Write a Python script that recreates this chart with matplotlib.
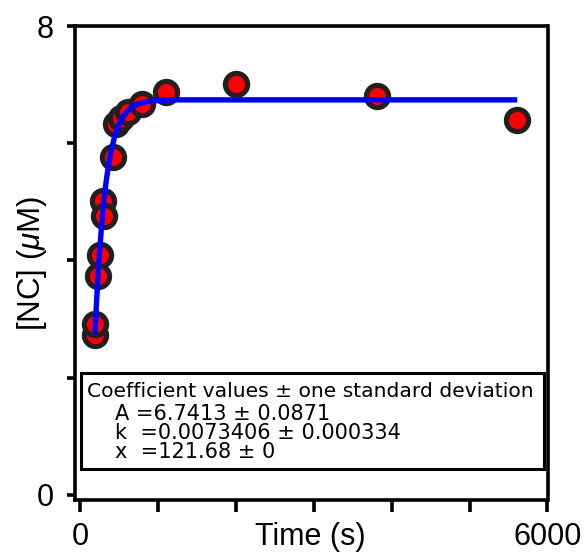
import matplotlib
matplotlib.use("Agg")
import matplotlib.pyplot as plt
from matplotlib.patches import Rectangle

# ---- data ----
time_s = [190, 195, 235, 257, 291, 312, 427, 462, 526, 616, 796, 1104, 2002, 3808, 5612]
nc_uM = [2.73, 2.91, 3.73, 4.10, 5.02, 4.76, 5.76, 6.33, 6.43, 6.53, 6.67, 6.87, 7.01, 6.80, 6.40]

fit_time = [192, 210, 230, 250, 275, 300, 330, 360, 400, 450, 500, 560, 640, 740, 860,
            1000, 1200, 1500, 2000, 3000, 5612]
fit_nc = [2.75, 3.22, 3.70, 4.11, 4.55, 4.92, 5.28, 5.57, 5.87, 6.14, 6.32, 6.47, 6.59,
          6.67, 6.71, 6.73, 6.74, 6.74, 6.74, 6.74, 6.74]

x_ticks = [0, 1000, 2000, 3000, 4000, 5000, 6000]
x_ticklabels = ["0", "", "", "", "", "", "6000"]
y_ticks = [0, 2, 4, 6, 8]
y_ticklabels = ["0", "", "", "", "8"]

coef_lines = ["A =6.7413 \u00b1 0.0871",
              "k  =0.0073406 \u00b1 0.000334",
              "x  =121.68 \u00b1 0"]
coef_title = "Coefficient values \u00b1 one standard deviation"

# ---- style ----
plt.rcParams['font.family'] = ['Liberation Sans', 'DejaVu Sans']
plt.rcParams['mathtext.fontset'] = 'custom'
plt.rcParams['mathtext.rm'] = 'Liberation Sans'
plt.rcParams['mathtext.it'] = 'Liberation Sans:italic'

W, H = 586, 553
fig = plt.figure(figsize=(W / 100, H / 100), dpi=100)
left, right, top, bottom = 74.5, 547.5, 26, 499.5
ax = fig.add_axes([left / W, 1 - bottom / H, (right - left) / W, (bottom - top) / H])

ax.plot(time_s, nc_uM, linestyle='none', marker='o', markersize=16,
        markerfacecolor='#ff0000', markeredgecolor='#231f20', markeredgewidth=3.7, zorder=3)
ax.plot(fit_time, fit_nc, color='#0000ff', linewidth=3.9, zorder=4,
        solid_capstyle='butt')

ax.set_xlim(-70, 6000)
ax.set_ylim(-0.077, 8.0)

ax.set_xticks(x_ticks)
ax.set_xticklabels(x_ticklabels)
ax.set_yticks(y_ticks)
ax.set_yticklabels(y_ticklabels)

for s in ax.spines.values():
    s.set_linewidth(2.6)
    s.set_color('black')

ax.tick_params(axis='x', direction='out', length=8.5, width=2.6, labelsize=22, pad=8)
ax.tick_params(axis='y', direction='out', length=6, width=2.6, labelsize=22, pad=9)

fig.text(310 / W, 1 - 537 / H, 'Time (s)', ha='center', va='center', fontsize=22)
fig.text(32 / W, 1 - 263 / H, r'[NC] ($\mu$M)', ha='center', va='center',
         rotation=90, fontsize=22.5)

# coefficient box
def fx(px):
    return (px - left) / (right - left)

def fy(py):
    return (bottom - py) / (bottom - top)

ax.add_patch(Rectangle((fx(81), fy(469)), fx(544) - fx(81), fy(373) - fy(469),
                       transform=ax.transAxes, fill=True, facecolor='white',
                       edgecolor='black', linewidth=2.2, zorder=5))
ax.text(fx(87), fy(397), coef_title, transform=ax.transAxes, ha='left', va='baseline',
        fontsize=14.6, family='DejaVu Sans', zorder=6)
for i, (line, by) in enumerate(zip(coef_lines, [420, 439, 458])):
    ax.text(fx(115), fy(by), line, transform=ax.transAxes, ha='left', va='baseline',
            fontsize=15, family='DejaVu Sans', zorder=6)

fig.savefig('out.png', dpi=100)
